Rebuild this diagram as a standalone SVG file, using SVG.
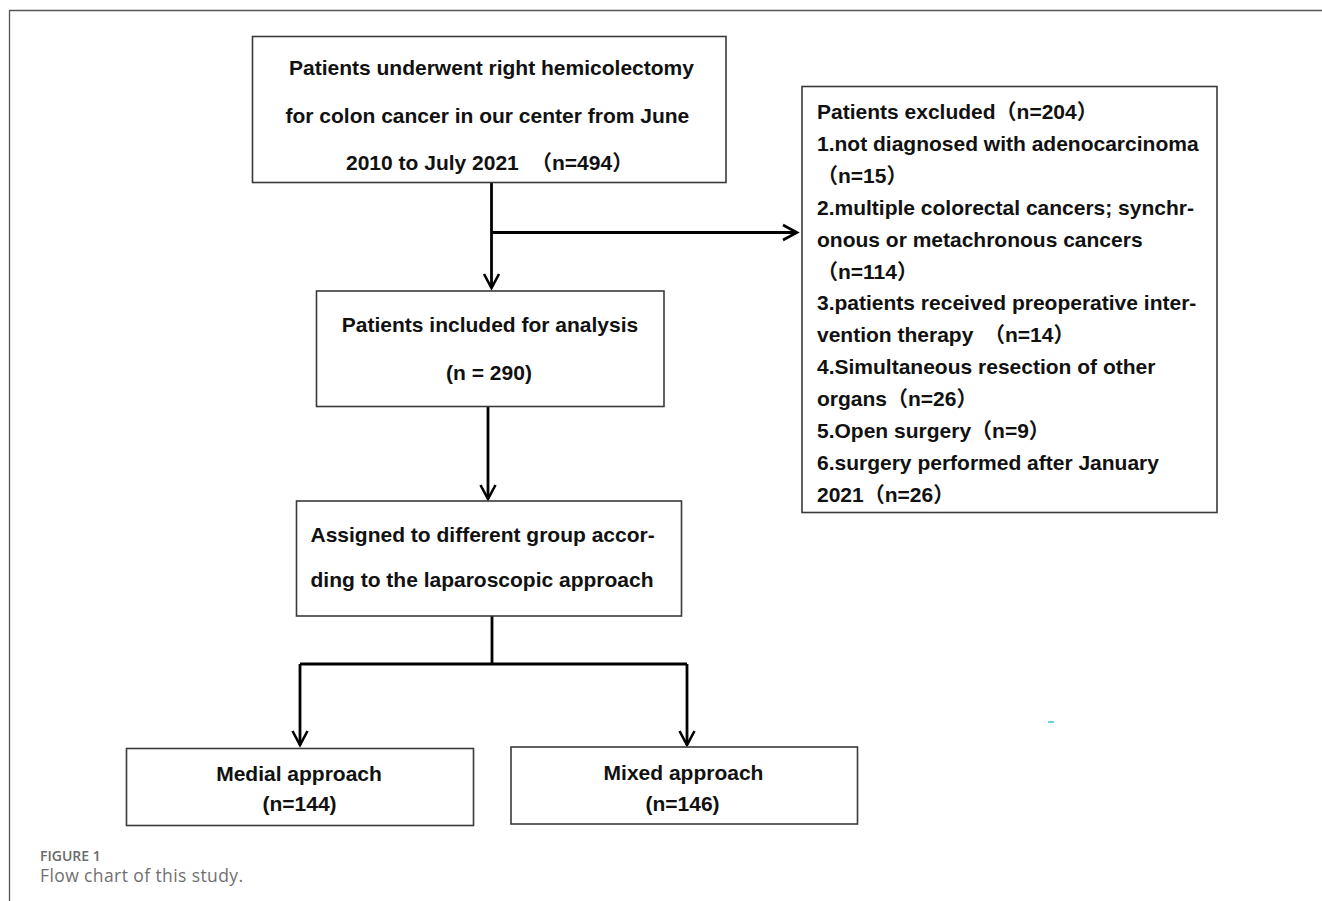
<svg xmlns="http://www.w3.org/2000/svg" width="1322" height="901" viewBox="0 0 1322 901">
<style>
.box{fill:#fff;stroke:#3a3a3a;stroke-width:1.6}
.t{font-family:"Liberation Sans","Noto Sans CJK SC",Arial,sans-serif;font-size:21px;font-weight:bold;fill:#111}
.c{text-anchor:middle}
.ln{fill:none;stroke:#000;stroke-width:2.8}
.cap1{font-family:"Open Sans","Noto Sans",sans-serif;font-size:14px;font-weight:600;fill:#6a6a6a}
.cap2{font-family:"Open Sans","Noto Sans",sans-serif;font-size:17.5px;font-weight:400;letter-spacing:0.4px;fill:#707070}
</style>
<defs>
<marker id="arr" markerUnits="userSpaceOnUse" markerWidth="24" markerHeight="24" viewBox="-18 -12 24 24" refX="0" refY="0" orient="auto" overflow="visible">
<path d="M-14,-7.5 L0,0 L-14,7.5" fill="none" stroke="#000" stroke-width="2.6"/>
</marker>
</defs>
<rect width="1322" height="901" fill="#fff"/>
<path d="M9.5,901 V10.5 H1322" fill="none" stroke="#555" stroke-width="1.3"/>

<g id="connectors">
<line class="ln" x1="491.5" y1="183" x2="491.5" y2="288" marker-end="url(#arr)"/>
<line class="ln" x1="491.5" y1="232.5" x2="797" y2="232.5" marker-end="url(#arr)"/>
<line class="ln" x1="488" y1="407" x2="488" y2="499" marker-end="url(#arr)"/>
<line class="ln" x1="492" y1="616" x2="492" y2="664"/>
<line class="ln" x1="300" y1="664" x2="687" y2="664" stroke-width="3.5"/>
<line class="ln" x1="300" y1="664" x2="300" y2="745" marker-end="url(#arr)"/>
<line class="ln" x1="687" y1="664" x2="687" y2="745" marker-end="url(#arr)"/>
</g>

<g id="n-total">
<rect class="box" x="252.5" y="36.5" width="473.5" height="146"/>
<text class="t" x="289" y="75">Patients underwent right hemicolectomy</text>
<text class="t" x="285.5" y="123">for colon cancer in our center from June</text>
<text class="t" x="346" y="170">2010 to July 2021<tspan x="531">（n=494）</tspan></text>
</g>

<g id="n-included">
<rect class="box" x="316.5" y="291" width="347.5" height="115.5"/>
<text class="t c" x="490" y="331.5">Patients included for analysis</text>
<text class="t c" x="489" y="380">(n = 290)</text>
</g>

<g id="n-excluded">
<rect class="box" x="802" y="86.5" width="415" height="426"/>
<text class="t" x="817" y="119">Patients excluded（n=204）</text>
<text class="t" x="817" y="151">1.not diagnosed with adenocarcinoma</text>
<text class="t" x="817" y="183">（n=15）</text>
<text class="t" x="817" y="215">2.multiple colorectal cancers; synchr-</text>
<text class="t" x="817" y="247">onous or metachronous cancers</text>
<text class="t" x="817" y="279">（n=114）</text>
<text class="t" x="817" y="310">3.patients received preoperative inter-</text>
<text class="t" x="817" y="342">vention therapy<tspan x="984">（n=14）</tspan></text>
<text class="t" x="817" y="374">4.Simultaneous resection of other</text>
<text class="t" x="817" y="406">organs（n=26）</text>
<text class="t" x="817" y="438">5.Open surgery（n=9）</text>
<text class="t" x="817" y="470">6.surgery performed after January</text>
<text class="t" x="817" y="502">2021（n=26）</text>
</g>

<g id="n-assigned">
<rect class="box" x="296.5" y="501" width="385" height="115"/>
<text class="t" x="310.5" y="541.5">Assigned to different group accor-</text>
<text class="t" x="310.5" y="587">ding to the laparoscopic approach</text>
</g>

<g id="n-medial">
<rect class="box" x="126.5" y="748.5" width="347" height="77"/>
<text class="t c" x="299" y="781">Medial approach</text>
<text class="t c" x="299.5" y="811">(n=144)</text>
</g>

<g id="n-mixed">
<rect class="box" x="511" y="747" width="346.5" height="77"/>
<text class="t c" x="683.5" y="780">Mixed approach</text>
<text class="t c" x="682.5" y="810.5">(n=146)</text>
</g>

<rect x="1048" y="721" width="6" height="2" fill="#6fd0ec"/>

<text class="cap1" x="40" y="861">FIGURE 1</text>
<text class="cap2" x="40" y="882">Flow chart of this study.</text>
</svg>
